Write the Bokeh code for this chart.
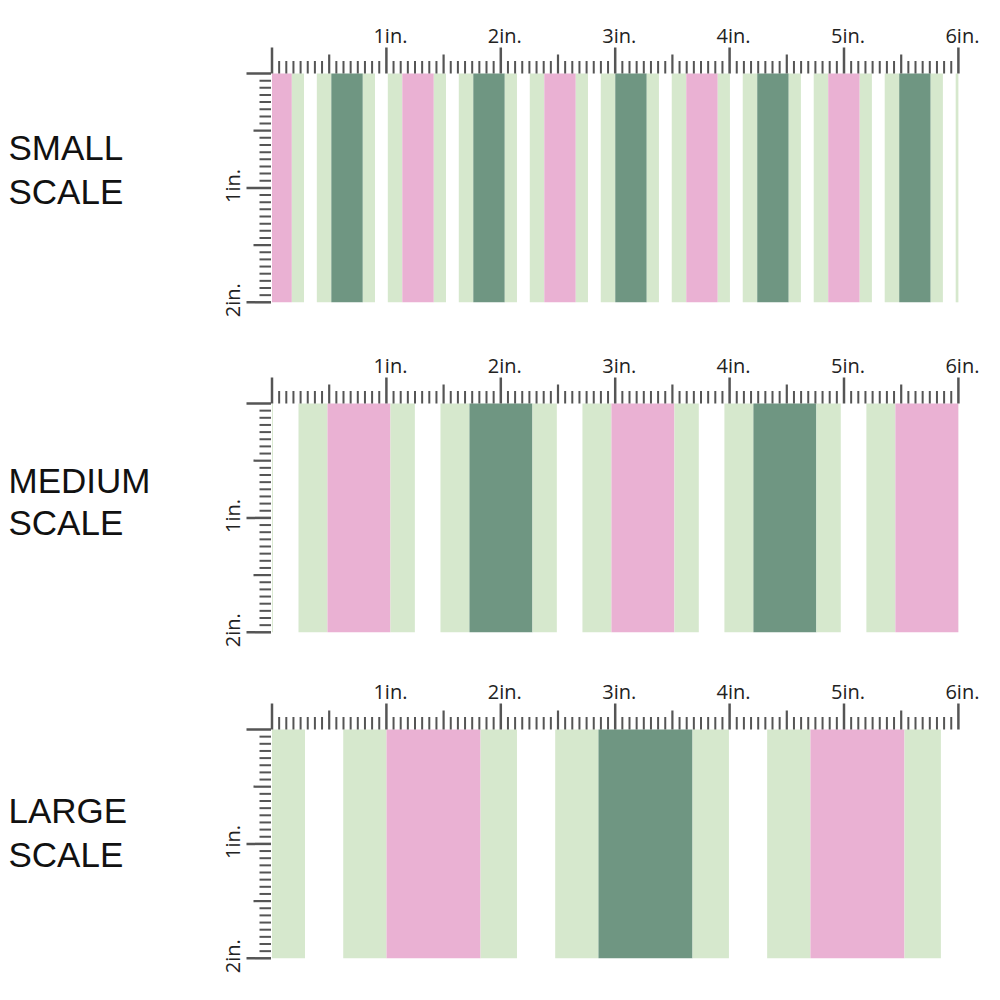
import math
from bokeh.plotting import figure
from bokeh.models import Range1d
from bokeh.core.properties import value
from bokeh.embed import file_html
from bokeh.resources import INLINE

# ---------------- data ----------------
panel_titles = ["SMALL", "MEDIUM", "LARGE"]
panel_subtitle = "SCALE"
# one repeat of the stripe pattern at small scale (inches), starting at the pink band
stripe_kinds = ["pink", "light", "white", "light", "dark", "light", "white", "light"]
stripe_widths_in = [0.2753, 0.1066, 0.1119, 0.1267, 0.2753, 0.1066, 0.1119, 0.1267]
# scale factor of the repeat and where a pink band starts (inches) in each panel
panel_scale = [1.0, 2.0, 2.986]
panel_phase_in = [-0.102, 0.485, 1.001]
ruler_width_in = 6
ruler_height_in = 2
ticks_per_inch = 16
x_tick_labels = ["1in.", "2in.", "3in.", "4in.", "5in.", "6in."]
y_tick_labels = ["1in.", "2in."]

# ---------------- styles / layout ----------------
COLORS = {"pink": "#EAB1D3", "light": "#D6E8CD", "dark": "#6F9682", "white": None}
S = 114.4          # px per inch
X0 = 271.5         # page x of the 0 inch tick
panel_top_px = [73, 403, 729]
title_baselines_px = [(159, 203), (492, 534), (822, 866)]
TICK_COLOR = "#555555"
TITLE_SHIFT = 12   # px correction for text placement
LABEL_SHIFT = 8


def px_x(px):
    return (px - X0) / S


def px_len(px):
    return px / S


p = figure(width=984, height=984, output_backend="svg", toolbar_location=None,
           x_range=Range1d(px_x(0), px_x(984)),
           y_range=Range1d(start=984 / S, end=0),
           x_axis_type=None, y_axis_type=None, min_border=0,
           background_fill_color="white", border_fill_color="white",
           outline_line_color=None)

for k in range(3):
    top = panel_top_px[k] / S
    bottom = top + ruler_height_in
    scale = panel_scale[k]
    period = sum(stripe_widths_in) * scale
    # tile the stripe repeat over 0..6 in
    start = panel_phase_in[k]
    while start > 0:
        start -= period
    L, R, C = [], [], []
    x = start
    while x < ruler_width_in:
        for kind, w in zip(stripe_kinds, stripe_widths_in):
            x1 = x + w * scale
            if COLORS[kind] is not None:
                a, b = max(x, 0), min(x1, ruler_width_in)
                if b > a:
                    L.append(a); R.append(b); C.append(COLORS[kind])
            x = x1
    p.quad(left=L, right=R, top=[top] * len(L), bottom=[bottom] * len(L),
           fill_color=C, line_color=None)

    # top ruler ticks
    xs, y0s, y1s, ws = [], [], [], []
    for i in range(ruler_width_in * ticks_per_inch + 1):
        if i % ticks_per_inch == 0:
            ln, w = 26, 2.5
        elif i % (ticks_per_inch // 2) == 0:
            ln, w = 19, 2.2
        else:
            ln, w = 12.5, 2.0
        xs.append(i / ticks_per_inch); y0s.append(top - px_len(ln)); y1s.append(top); ws.append(w)
    p.segment(x0=xs, y0=y0s, x1=xs, y1=y1s, line_color=TICK_COLOR, line_width=ws)

    # left ruler ticks
    ys, x0s, ws2 = [], [], []
    for j in range(ruler_height_in * ticks_per_inch + 1):
        if j % ticks_per_inch == 0:
            ln, w = 25.5, 2.5
        elif j % (ticks_per_inch // 2) == 0:
            ln, w = 18.5, 2.2
        else:
            ln, w = 12.5, 2.0
        ys.append(top + j / ticks_per_inch); x0s.append(-px_len(ln)); ws2.append(w)
    p.segment(x0=x0s, y0=ys, x1=[-px_len(1)] * len(ys), y1=ys,
              line_color=TICK_COLOR, line_width=ws2)

    # top ruler labels
    p.text(x=[i + 1 + px_len(4) for i in range(len(x_tick_labels))],
           y=[top - px_len(30 + LABEL_SHIFT)] * len(x_tick_labels), text=x_tick_labels,
           text_font=value("Open Sans"), text_font_size=value("20px"),
           text_align="center", text_baseline="alphabetic", text_color="#222222")
    # left ruler labels (rotated)
    p.text(x=[px_x(240 - LABEL_SHIFT)] * len(y_tick_labels),
           y=[top + j + 1 - px_len(2) for j in range(len(y_tick_labels))],
           text=y_tick_labels, angle=math.pi / 2,
           text_font=value("Open Sans"), text_font_size=value("20px"),
           text_align="center", text_baseline="alphabetic", text_color="#222222")

    # panel title
    b1, b2 = title_baselines_px[k]
    p.text(x=[px_x(8), px_x(8)], y=[(b1 - TITLE_SHIFT) / S, (b2 - TITLE_SHIFT) / S],
           text=[panel_titles[k], panel_subtitle],
           text_font=value("Liberation Sans"), text_font_size=value("35px"),
           text_align="left", text_baseline="alphabetic", text_color="#111111")

open("out.html", "w").write(file_html(p, INLINE))
